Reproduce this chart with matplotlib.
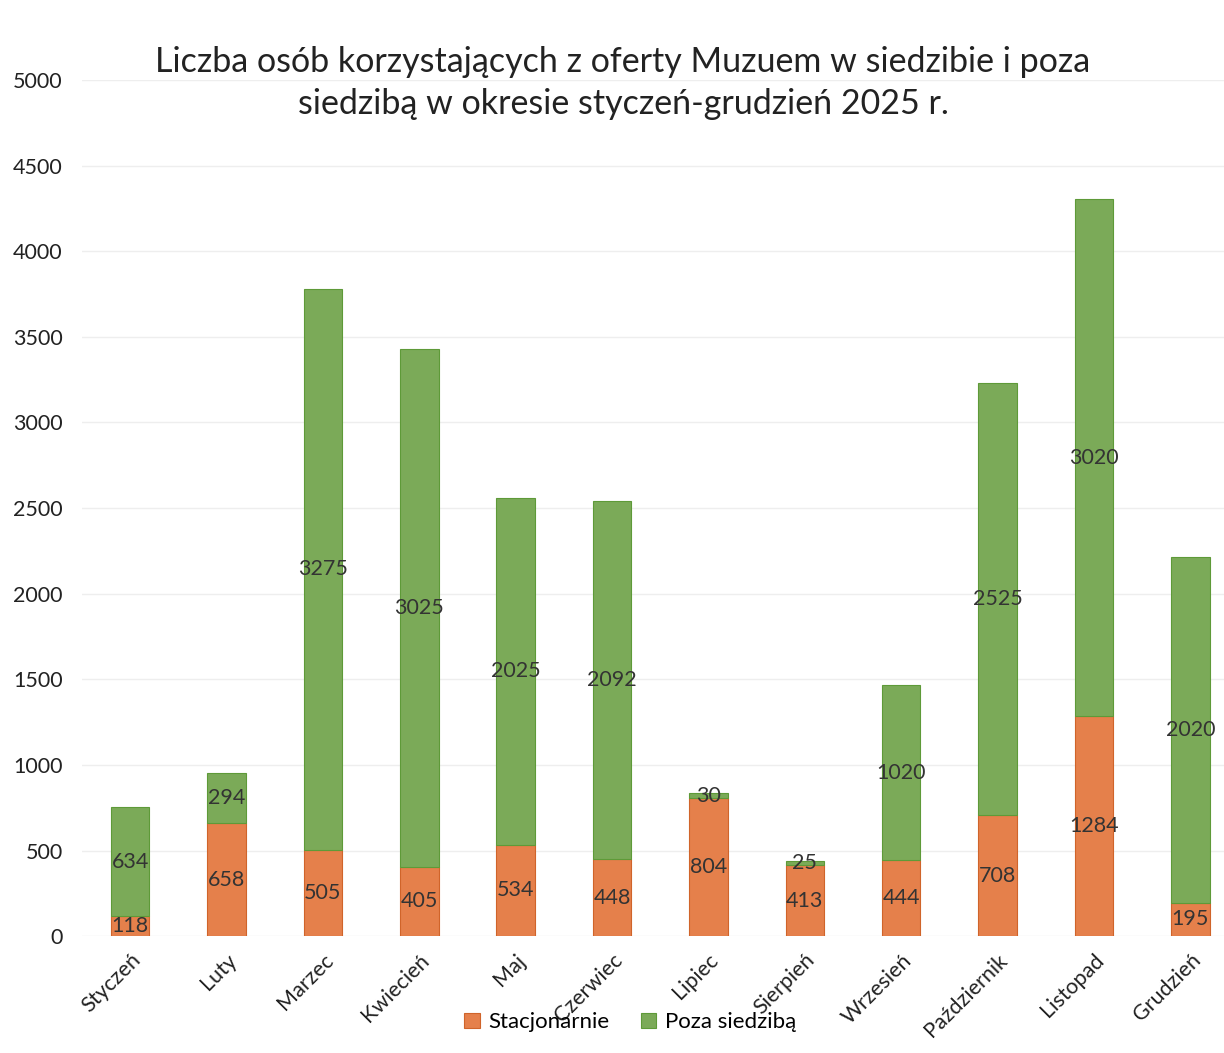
import numpy as np
import matplotlib
matplotlib.use("Agg")
from matplotlib import pyplot as plt

plt.rcParams['font.family'] = ['Lato', 'DejaVu Sans']

months = ['Styczeń', 'Luty', 'Marzec', 'Kwiecień', 'Maj', 'Czerwiec',
          'Lipiec', 'Sierpień', 'Wrzesień', 'Październik', 'Listopad', 'Grudzień']
stacjonarnie = [118, 658, 505, 405, 534, 448, 804, 413, 444, 708, 1284, 195]
poza_siedziba = [634, 294, 3275, 3025, 2025, 2092, 30, 25, 1020, 2525, 3020, 2020]

orange = '#E5804B'
green = '#7BAA58'

fig = plt.figure(figsize=(12.24, 10.53), dpi=100)
ax = fig.add_axes([0.067, 0.111, 0.933, 0.813])

x = np.arange(len(months))
b1 = ax.bar(x, stacjonarnie, width=0.4, color=orange, edgecolor='#D0642A',
            linewidth=0.8, label='Stacjonarnie', zorder=2)
b2 = ax.bar(x, poza_siedziba, width=0.4, bottom=stacjonarnie, color=green,
            edgecolor='#5E9A38', linewidth=0.8, label='Poza siedzibą', zorder=2)

# etykiety wartości na środku segmentów
ax.bar_label(b1, labels=[str(v) for v in stacjonarnie], label_type='center',
             fontsize=15.5, color='#333333')
ax.bar_label(b2, labels=[str(v) for v in poza_siedziba], label_type='center',
             fontsize=15.5, color='#333333')

ax.set_xlim(-0.5, 11.35)
ax.set_ylim(0, 5000)
ax.set_yticks(np.arange(0, 5001, 500))
ax.yaxis.grid(True, color='#eeeeee', linewidth=1, zorder=0)
ax.set_axisbelow(True)
for s in ax.spines.values():
    s.set_visible(False)
ax.tick_params(axis='both', length=0, labelsize=15.5, colors='#222222')
ax.tick_params(axis='y', pad=14)
ax.tick_params(axis='x', pad=10)
ax.set_xticks(x)
ax.set_xticklabels(months, rotation=45, ha='right', va='top',
                   rotation_mode='anchor', fontsize=15.5)

fig.text(0.509, 0.921, 'Liczba osób korzystających z oferty Muzuem w siedzibie i poza\n'
         'siedzibą w okresie styczeń-grudzień 2025 r.', ha='center', va='center',
         fontsize=24.5, color='#222222', linespacing=1.4)

fig.legend(handles=[b1, b2], loc='center', bbox_to_anchor=(0.515, 0.029), ncol=2,
           frameon=False, fontsize=16, handlelength=0.7, handleheight=0.7,
           handletextpad=0.4, columnspacing=1.4)

fig.savefig('out.png', dpi=100)
